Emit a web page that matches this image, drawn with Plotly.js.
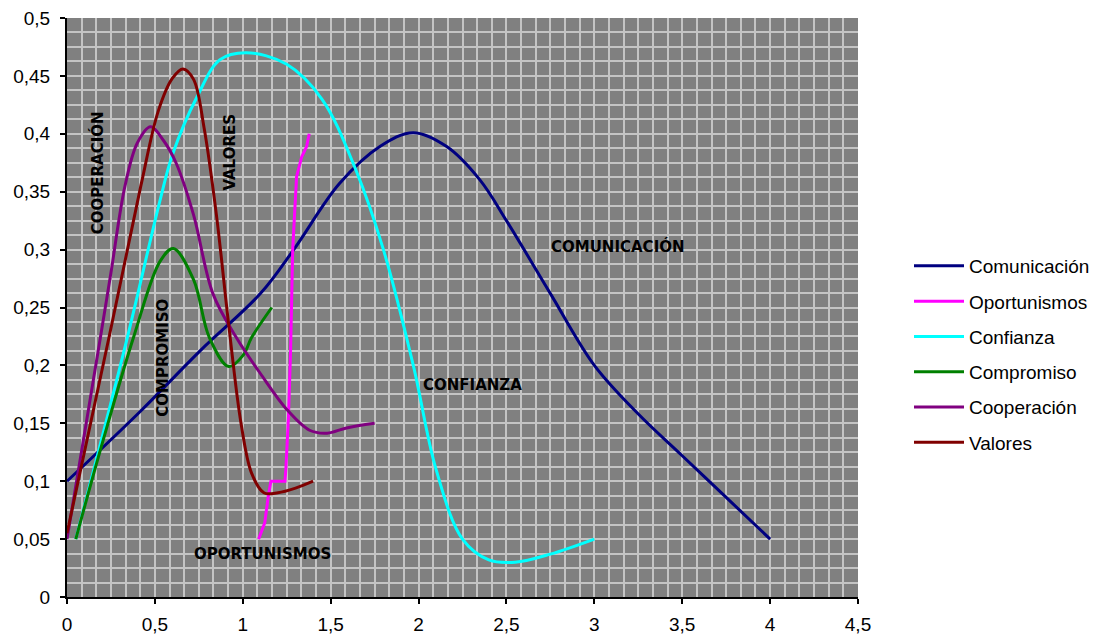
<!DOCTYPE html>
<html>
<head>
<meta charset="utf-8">
<script src="https://cdn.plot.ly/plotly-3.0.1.min.js"></script>
<style>html,body{margin:0;padding:0;background:#fff;}#chart{width:1096px;height:636px;}</style>
</head>
<body>
<div id="chart"></div>
<script>
// Series names (legend order)
var seriesNames = ["Comunicación", "Oportunismos", "Confianza", "Compromiso", "Cooperación", "Valores"];
var seriesColors = ["#000080", "#FF00FF", "#00FFFF", "#008000", "#800080", "#800000"];

// Comunicación
var comX = [0, 0.415, 0.76, 1.1, 1.29, 1.55, 1.78, 1.97, 2.16, 2.35, 2.5, 2.75, 3.0, 3.25, 3.5, 3.75, 4.0];
var comY = [0.1, 0.16, 0.213, 0.262, 0.3, 0.357, 0.389, 0.401, 0.389, 0.36, 0.325, 0.262, 0.2, 0.158, 0.122, 0.086, 0.05];
// Oportunismos
var opX = [1.09, 1.125, 1.145, 1.16, 1.24, 1.245, 1.26, 1.272, 1.284, 1.297, 1.306, 1.335, 1.363, 1.378];
var opY = [0.05, 0.064, 0.087, 0.1, 0.1, 0.11, 0.156, 0.213, 0.3, 0.337, 0.363, 0.38, 0.389, 0.4];
// Confianza
var confX = [0.05, 0.34, 0.53, 0.6, 0.74, 0.87, 1.02, 1.25, 1.45, 1.64, 1.8, 1.97, 2.1, 2.25, 2.4, 2.55, 2.75, 3.0];
var confY = [0.05, 0.222, 0.343, 0.382, 0.432, 0.464, 0.47, 0.46, 0.43, 0.37, 0.3, 0.2, 0.11, 0.05, 0.032, 0.03, 0.037, 0.05];
// Compromiso
var compX = [0.05, 0.19, 0.38, 0.53, 0.605, 0.72, 0.81, 0.92, 1.003, 1.05, 1.165];
var compY = [0.05, 0.127, 0.225, 0.29, 0.301, 0.274, 0.224, 0.199, 0.209, 0.224, 0.25];
// Cooperación
var coopX = [0, 0.19, 0.25, 0.33, 0.4, 0.475, 0.55, 0.62, 0.72, 0.83, 0.965, 1.1, 1.25, 1.38, 1.48, 1.59, 1.75];
var coopY = [0.05, 0.224, 0.28, 0.355, 0.392, 0.406, 0.394, 0.375, 0.33, 0.262, 0.2236, 0.193, 0.162, 0.144, 0.1415, 0.146, 0.15];
// Valores
var valX = [0, 0.24, 0.42, 0.52, 0.6, 0.66, 0.72, 0.78, 0.85, 0.92, 0.99, 1.05, 1.12, 1.2, 1.3, 1.4];
var valY = [0.055, 0.225, 0.355, 0.42, 0.448, 0.456, 0.447, 0.405, 0.33, 0.235, 0.15, 0.107, 0.09, 0.09, 0.094, 0.1];

// In-chart labels
var labelTexts = ["COMUNICACIÓN", "CONFIANZA", "OPORTUNISMOS", "COOPERACIÓN", "VALORES", "COMPROMISO"];
var labelX = [3.134, 2.309, 1.115, 0.171, 0.927, 0.546];
var labelY = [0.3025, 0.1832, 0.0372, 0.366, 0.3846, 0.2066];
var labelAngle = [0, 0, 0, -90, -90, -90];

var xs = [comX, opX, confX, compX, coopX, valX];
var ys = [comY, opY, confY, compY, coopY, valY];
var shapes = ["spline", "linear", "spline", "spline", "spline", "spline"];

var traces = seriesNames.map(function (n, i) {
  return {
    type: "scatter", mode: "lines", name: n, legendgroup: "g" + i,
    x: xs[i], y: ys[i],
    line: {color: seriesColors[i], width: 3, shape: shapes[i], smoothing: 1}
  };
});

var annotations = labelTexts.map(function (t, i) {
  return {
    text: t, x: labelX[i], y: labelY[i], xref: "x", yref: "y",
    showarrow: false, textangle: labelAngle[i],
    font: {family: "DejaVu Sans", size: 15, color: "#000", weight: "bold"}
  };
});

var gridC = "#c4c4c4";
var layout = {
  width: 1096, height: 636,
  margin: {l: 67, r: 238, t: 18, b: 39, pad: 0, autoexpand: false},
  paper_bgcolor: "#ffffff", plot_bgcolor: "#808080",
  separators: ",.",
  font: {family: "Liberation Sans, Arial, sans-serif", color: "#000"},
  showlegend: true,
  legend: {
    xref: "container", yref: "container",
    x: 909 / 1096, xanchor: "left", y: 1 - 247 / 636, yanchor: "top",
    traceorder: "grouped", tracegroupgap: 7.6,
    font: {size: 19, color: "#000"}, bgcolor: "rgba(0,0,0,0)", borderwidth: 0,
    itemwidth: 50
  },
  xaxis: {
    range: [0, 4.5], dtick: 0.5, tick0: 0,
    showgrid: true, gridcolor: gridC, gridwidth: 2,
    minor: {dtick: 1 / 12, showgrid: true, gridcolor: gridC, gridwidth: 2, ticks: ""},
    zeroline: false, showline: true, linecolor: "#000", linewidth: 2,
    ticks: "outside", ticklen: 5, tickcolor: "#000", tickwidth: 2,
    ticklabelstandoff: 4, automargin: false,
    tickfont: {size: 19, color: "#000"}, fixedrange: true
  },
  yaxis: {
    range: [0, 0.5], dtick: 0.05, tick0: 0,
    showgrid: true, gridcolor: gridC, gridwidth: 2,
    minor: {dtick: 0.0125, showgrid: true, gridcolor: gridC, gridwidth: 2, ticks: ""},
    zeroline: false, showline: true, linecolor: "#000", linewidth: 2,
    ticks: "outside", ticklen: 5, tickcolor: "#000", tickwidth: 2,
    ticklabelstandoff: 6, automargin: false,
    tickfont: {size: 19, color: "#000"}, fixedrange: true
  },
  annotations: annotations
};

Plotly.newPlot("chart", traces, layout, {displayModeBar: false, staticPlot: true});
</script>
</body>
</html>
